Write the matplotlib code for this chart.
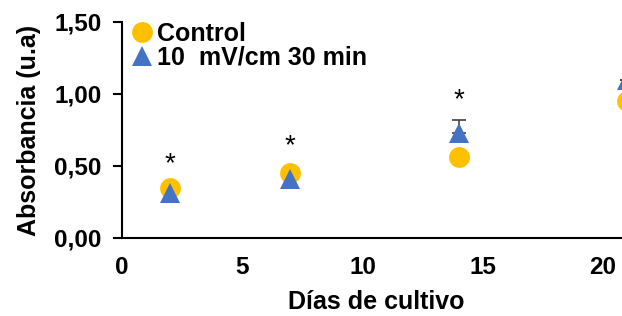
import matplotlib
matplotlib.use("Agg")
import matplotlib.pyplot as plt
from matplotlib.lines import Line2D

days = [2, 7, 14, 21]
control = [0.35, 0.45, 0.56, 0.95]
treated = [0.31, 0.41, 0.73, 1.10]
treated_err = [0.0, 0.0, 0.09, 0.0]
star_days = [2, 7, 14]
star_y = [0.51, 0.64, 0.96]
labels = ["Control", "10  mV/cm 30 min"]

plt.rcParams['font.family'] = ['Liberation Sans', 'DejaVu Sans']
plt.rcParams['font.weight'] = 'bold'

fig = plt.figure(figsize=(6.22, 3.16), dpi=100)
ax = fig.add_axes([122/622, 1-238/316, 610/622, (238-22)/316])

ax.errorbar(days, treated, yerr=[[0]*4, treated_err], fmt='none', ecolor='#404040',
            elinewidth=1.2, capsize=5, capthick=1.2, zorder=2)
ax.plot(days, control, 'o', color='#FFC000', markersize=15, markeredgewidth=0, zorder=3)
ax.plot(days, treated, '^', color='#4472C4', markersize=14, markeredgewidth=0, zorder=4)
for d, y in zip(star_days, star_y):
    ax.text(d, y, '*', ha='center', va='center', fontsize=20, fontweight='normal')

ax.set_xlim(0, 25.36)
ax.set_ylim(0, 1.5)
ax.set_xticks([0, 5, 10, 15, 20])
ax.set_yticks([0, 0.5, 1.0, 1.5])
ax.set_yticklabels(['0,00', '0,50', '1,00', '1,50'])
ax.tick_params(axis='y', direction='out', length=6.5, width=1.5, labelsize=17.5, pad=8)
ax.tick_params(axis='x', length=0, labelsize=17.5, pad=13)
for s in ['top', 'right']:
    ax.spines[s].set_visible(False)
for s in ['left', 'bottom']:
    ax.spines[s].set_linewidth(1.5)
ax.set_xlabel('Días de cultivo', fontsize=18, fontweight='bold', labelpad=8)
ax.xaxis.set_label_coords(0.416, -0.24)
ax.set_ylabel('Absorbancia (u.a)', fontsize=18, fontweight='bold', labelpad=10)

handles = [Line2D([], [], marker='o', color='#FFC000', ls='none', markersize=15, markeredgewidth=0),
           Line2D([], [], marker='^', color='#4472C4', ls='none', markersize=15, markeredgewidth=0)]
ax.legend(handles, labels, loc='upper left', bbox_to_anchor=(-0.028, 1.105), frameon=False,
          prop={'size': 18, 'weight': 'bold'}, handletextpad=0.0, labelspacing=0.0,
          handlelength=1.2, borderaxespad=0.5)

fig.savefig('out.png', dpi=100)
